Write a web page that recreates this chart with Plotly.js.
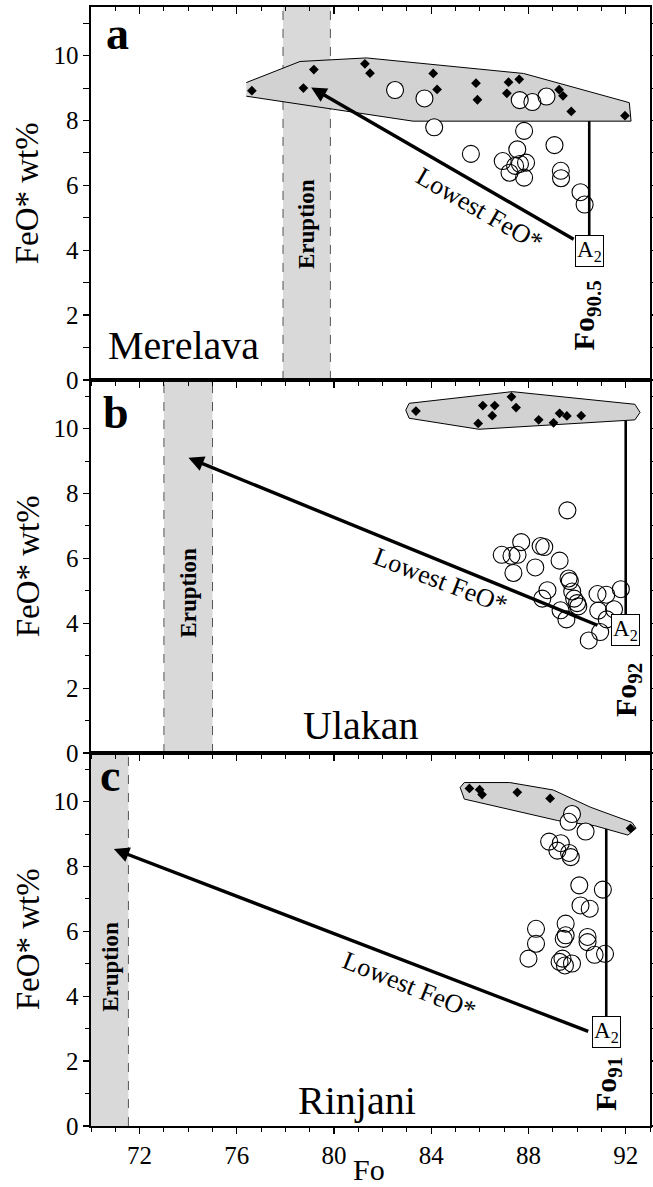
<!DOCTYPE html>
<html>
<head>
<meta charset="utf-8">
<script src="https://cdn.plot.ly/plotly-3.0.1.min.js"></script>
<style>
  html, body { margin: 0; padding: 0; background: #ffffff; }
  #chart { width: 653px; height: 1187px; }
</style>
</head>
<body>
<div id="chart"></div>
<script>
// ---------- Merelava (panel a) ----------
const merelavaEnvelopeFo  = [76.39, 78.60, 81.33, 87.80, 92.15, 92.22, 83.25, 76.39];
const merelavaEnvelopeFeO = [9.17, 9.82, 9.93, 9.45, 8.55, 7.98, 7.98, 8.75];
const merelavaMeltFo  = [76.62, 78.74, 79.17, 81.27, 81.48, 84.08, 84.24, 85.84, 85.90, 87.18, 87.62, 87.11, 89.26, 89.42, 89.76, 91.97];
const merelavaMeltFeO = [8.92, 9.00, 9.57, 9.75, 9.46, 9.45, 8.96, 9.15, 8.64, 9.18, 9.27, 8.84, 8.95, 8.76, 8.28, 8.15];
const merelavaOlivineFo  = [82.51, 83.72, 87.64, 88.16, 88.74, 84.12, 87.82, 85.63, 89.07, 87.54, 86.94, 87.22, 87.65, 87.90, 87.82, 87.45, 89.33, 89.34, 90.14, 90.31];
const merelavaOlivineFeO = [8.94, 8.68, 8.63, 8.57, 8.74, 7.79, 7.68, 6.97, 7.24, 7.11, 6.75, 6.39, 6.66, 6.70, 6.24, 6.60, 6.45, 6.22, 5.79, 5.41];
const merelavaEruptionFo = [77.9, 79.85];
const merelavaArrowFo  = [89.92, 79.06];   // tail, head
const merelavaArrowFeO = [4.31, 9.02];
const merelavaPrimaryFo = 90.5;
const merelavaPrimaryFeO = [7.98, 4.42, 3.97]; // line top, line bottom, A2

// ---------- Ulakan (panel b) ----------
const ulakanEnvelopeFo  = [82.95, 83.09, 87.33, 92.38, 92.59, 92.38, 85.96, 83.09, 82.95];
const ulakanEnvelopeFeO = [10.57, 10.78, 11.14, 10.75, 10.50, 10.27, 9.98, 10.32, 10.57];
const ulakanMeltFo  = [83.37, 86.12, 86.61, 87.30, 87.49, 86.51, 85.93, 88.42, 89.03, 89.28, 89.58, 90.17];
const ulakanMeltFeO = [10.54, 10.71, 10.71, 10.98, 10.65, 10.40, 10.16, 10.27, 10.18, 10.47, 10.39, 10.40];
const ulakanOlivineFo  = [89.60, 87.70, 86.90, 87.30, 87.55, 87.38, 88.28, 88.50, 88.65, 89.28, 89.65, 89.70, 88.78, 88.57, 89.80, 89.88, 90.00, 90.05, 89.32, 89.56, 90.84, 91.20, 91.80, 90.87, 91.52, 90.95, 90.48, 91.22];
const ulakanOlivineFeO = [7.48, 6.50, 6.11, 6.08, 6.11, 5.55, 5.72, 6.38, 6.35, 5.93, 5.38, 5.30, 5.02, 4.76, 4.98, 4.76, 4.62, 4.52, 4.40, 4.12, 4.90, 4.88, 5.05, 4.39, 4.43, 3.73, 3.47, 4.12];
const ulakanEruptionFo = [73.0, 75.0];
const ulakanArrowFo  = [90.9, 74.01];
const ulakanArrowFeO = [3.92, 9.10];
const ulakanPrimaryFo = 92.0;
const ulakanPrimaryFeO = [10.25, 4.25, 3.80];

// ---------- Rinjani (panel c) ----------
const rinjaniEnvelopeFo  = [85.19, 85.36, 87.23, 89.02, 90.55, 92.26, 92.43, 92.09, 90.72, 89.19, 85.36, 85.19];
const rinjaniEnvelopeFeO = [10.44, 10.59, 10.59, 10.36, 9.83, 9.36, 9.18, 8.97, 9.26, 9.42, 10.08, 10.44];
const rinjaniMeltFo  = [85.57, 85.99, 86.09, 87.54, 88.89, 92.20];
const rinjaniMeltFeO = [10.41, 10.37, 10.22, 10.29, 10.10, 9.18];
const rinjaniOlivineFo  = [89.79, 89.65, 90.35, 88.85, 89.19, 89.33, 89.67, 89.74, 90.09, 91.06, 90.14, 90.52, 88.31, 89.53, 88.31, 89.45, 89.53, 90.43, 90.43, 88.00, 89.28, 89.50, 89.40, 89.79, 90.72, 91.15];
const rinjaniOlivineFeO = [9.62, 9.38, 9.08, 8.77, 8.49, 8.72, 8.42, 8.29, 7.42, 7.29, 6.80, 6.70, 6.08, 6.24, 5.62, 5.77, 5.88, 5.83, 5.67, 5.16, 5.06, 4.95, 5.16, 5.01, 5.28, 5.31];
const rinjaniEruptionFo = [69.9, 71.54];
const rinjaniArrowFo  = [90.52, 70.94];
const rinjaniArrowFeO = [2.90, 8.54];
const rinjaniPrimaryFo = 91.2;
const rinjaniPrimaryFeO = [9.16, 3.36, 2.90];

const siteNames = ['Merelava', 'Ulakan', 'Rinjani'];
const panelLetters = ['a', 'b', 'c'];
const primaryLabels = ['90.5', '92', '91'];
const xTickValues = [72, 76, 80, 84, 88, 92];
const yTickValues = [0, 2, 4, 6, 8, 10];

const SERIF = 'Liberation Serif';

const panels = [
  { env: [merelavaEnvelopeFo, merelavaEnvelopeFeO], melt: [merelavaMeltFo, merelavaMeltFeO],
    ol: [merelavaOlivineFo, merelavaOlivineFeO], erupt: merelavaEruptionFo,
    arrow: [merelavaArrowFo, merelavaArrowFeO], pFo: merelavaPrimaryFo, pFeO: merelavaPrimaryFeO,
    siteAt: [73.8, 1.05], eruptAt: 4.8, lowAt: [86.0, 5.25], lowAngle: 30, primAt: [90.38, 2.0],
    letterAt: [0.047, 0.930] },
  { env: [ulakanEnvelopeFo, ulakanEnvelopeFeO], melt: [ulakanMeltFo, ulakanMeltFeO],
    ol: [ulakanOlivineFo, ulakanOlivineFeO], erupt: ulakanEruptionFo,
    arrow: [ulakanArrowFo, ulakanArrowFeO], pFo: ulakanPrimaryFo, pFeO: ulakanPrimaryFeO,
    siteAt: [81.1, 0.85], eruptAt: 4.95, lowAt: [84.36, 5.31], lowAngle: 21, primAt: [92.12, 1.93],
    letterAt: [0.045, 0.912] },
  { env: [rinjaniEnvelopeFo, rinjaniEnvelopeFeO], melt: [rinjaniMeltFo, rinjaniMeltFeO],
    ol: [rinjaniOlivineFo, rinjaniOlivineFeO], erupt: rinjaniEruptionFo,
    arrow: [rinjaniArrowFo, rinjaniArrowFeO], pFo: rinjaniPrimaryFo, pFeO: rinjaniPrimaryFeO,
    siteAt: [80.94, 0.80], eruptAt: 4.9, lowAt: [83.10, 4.34], lowAngle: 22, primAt: [91.25, 1.31],
    letterAt: [0.034, 0.940] }
];

const traces = [];
const shapes = [];
const annotations = [];
const tickFont = { family: SERIF, size: 25, color: '#000000' };
const layout = {
  width: 653, height: 1187,
  margin: { l: 91, r: 3, t: 7, b: 61 },
  paper_bgcolor: '#ffffff', plot_bgcolor: 'rgba(0,0,0,0)',
  showlegend: false,
  font: { family: SERIF, color: '#000000', size: 25 }
};

const domains = [[0.6667, 1], [0.3333, 0.6667], [0, 0.3333]];

panels.forEach((p, i) => {
  const n = i === 0 ? '' : String(i + 1);
  const xa = 'x' + n, ya = 'y' + n;

  // gray envelope of melt compositions
  traces.push({ type: 'scatter', mode: 'lines', x: p.env[0], y: p.env[1], xaxis: xa, yaxis: ya,
    fill: 'toself', fillcolor: '#d2d2d2', line: { color: '#000', width: 1 }, hoverinfo: 'skip' });
  // melt inclusions (filled diamonds)
  traces.push({ type: 'scatter', mode: 'markers', x: p.melt[0], y: p.melt[1], xaxis: xa, yaxis: ya,
    marker: { symbol: 'diamond', size: 7.5, color: '#000', line: { width: 0 } } });
  // olivine hosts: white discs underneath, outlines on top
  traces.push({ type: 'scatter', mode: 'markers', x: p.ol[0], y: p.ol[1], xaxis: xa, yaxis: ya,
    marker: { symbol: 'circle', size: 16, color: '#fff', line: { width: 0 } } });
  traces.push({ type: 'scatter', mode: 'markers', x: p.ol[0], y: p.ol[1], xaxis: xa, yaxis: ya,
    marker: { symbol: 'circle-open', size: 17, color: '#000', line: { width: 1.1, color: '#000' } } });

  // eruption band
  shapes.push({ type: 'rect', xref: xa, yref: ya + ' domain', x0: p.erupt[0], x1: p.erupt[1], y0: 0, y1: 1,
    fillcolor: '#d9d9d9', line: { width: 0 }, layer: 'below' });
  p.erupt.forEach(v => shapes.push({ type: 'line', xref: xa, yref: ya + ' domain', x0: v, x1: v, y0: 0, y1: 1,
    line: { color: '#555', width: 1, dash: 'dash' }, layer: 'below' }));

  // vertical primary-olivine line
  shapes.push({ type: 'line', xref: xa, yref: ya, x0: p.pFo, x1: p.pFo, y0: p.pFeO[0], y1: p.pFeO[1],
    line: { color: '#000', width: 2.6 } });

  // lowest FeO* arrow
  annotations.push({ xref: xa, yref: ya, axref: xa, ayref: ya,
    x: p.arrow[0][1], y: p.arrow[1][1], ax: p.arrow[0][0], ay: p.arrow[1][0],
    text: '', showarrow: true, arrowhead: 2, arrowsize: 0.9, arrowwidth: 3.4, arrowcolor: '#000', standoff: 0 });

  // A2 box
  annotations.push({ xref: xa, yref: ya, x: p.pFo, y: p.pFeO[2], text: 'A<sub>2</sub>', showarrow: false,
    font: { family: SERIF, size: 23, color: '#000' }, bordercolor: '#000', borderwidth: 1, borderpad: 1,
    bgcolor: '#fff' });

  // texts
  annotations.push({ xref: xa, yref: ya, x: p.siteAt[0], y: p.siteAt[1], text: siteNames[i], showarrow: false,
    font: { family: SERIF, size: 40, color: '#000' } });
  annotations.push({ xref: xa, yref: ya, x: (p.erupt[0] + p.erupt[1]) / 2 + (i === 2 ? 0.05 : 0), y: p.eruptAt,
    text: '<b>Eruption</b>', textangle: -90, showarrow: false, font: { family: SERIF, size: 23, color: '#000' } });
  annotations.push({ xref: xa, yref: ya, x: p.lowAt[0], y: p.lowAt[1], text: 'Lowest FeO*', textangle: p.lowAngle,
    showarrow: false, font: { family: SERIF, size: 26, color: '#000' } });
  annotations.push({ xref: xa, yref: ya, x: p.primAt[0], y: p.primAt[1],
    text: '<b>Fo<sub>' + primaryLabels[i] + '</sub></b>', textangle: -90, showarrow: false,
    font: { family: SERIF, size: 30, color: '#000' } });
  annotations.push({ xref: xa + ' domain', yref: ya + ' domain', x: p.letterAt[0], y: p.letterAt[1],
    xanchor: 'center', yanchor: 'middle',
    text: '<b>' + panelLetters[i] + '</b>', showarrow: false, font: { family: SERIF, size: 46, color: '#000' } });
  annotations.push({ xref: 'paper', yref: ya + ' domain', x: -0.113, y: 0.5, xanchor: 'center', yanchor: 'middle',
    text: 'FeO* wt%', textangle: -90, showarrow: false, font: { family: SERIF, size: 33, color: '#000' } });

  layout['xaxis' + n] = {
    domain: [0, 1], anchor: ya, range: [70, 93], showgrid: false, zeroline: false,
    tickmode: 'array', tickvals: xTickValues, showticklabels: i === 2,
    ticks: 'outside', ticklen: 6, tickwidth: 1.3, tickcolor: '#000',
    minor: { dtick: 1, tick0: 70, ticks: 'outside', ticklen: 4, tickwidth: 1, tickcolor: '#000' },
    showline: true, linecolor: '#000', linewidth: 1.6, mirror: true,
    tickfont: tickFont
  };
  if (i > 0) layout['xaxis' + n].matches = 'x';
  layout['yaxis' + n] = {
    domain: domains[i], anchor: xa, range: [0, 11.5], showgrid: false, zeroline: false,
    tickmode: 'array', tickvals: yTickValues,
    ticks: 'outside', ticklen: 6, tickwidth: 1.3, tickcolor: '#000',
    minor: { dtick: 1, tick0: 0, ticks: 'outside', ticklen: 4, tickwidth: 1, tickcolor: '#000' },
    showline: true, linecolor: '#000', linewidth: 1.6, mirror: 'allticks',
    tickfont: tickFont
  };
});

// inward ticks along the top edge of panel a
layout.xaxis4 = {
  overlaying: 'x', anchor: 'y', side: 'top', range: [70, 93],
  showgrid: false, zeroline: false, showticklabels: false, showline: false,
  tickmode: 'array', tickvals: xTickValues, ticks: 'inside', ticklen: 7, tickwidth: 1.3, tickcolor: '#000',
  minor: { dtick: 1, tick0: 70, ticks: 'inside', ticklen: 4, tickwidth: 1, tickcolor: '#000' }
};
traces.push({ type: 'scatter', mode: 'markers', x: [80], y: [-5], xaxis: 'x4', yaxis: 'y', hoverinfo: 'skip',
  marker: { size: 1, color: 'rgba(0,0,0,0)' } });

// x-axis title
annotations.push({ xref: 'paper', yref: 'paper', x: 0.497, y: -0.039, xanchor: 'center', yanchor: 'middle',
  text: 'Fo', showarrow: false, font: { family: SERIF, size: 30, color: '#000' } });

layout.shapes = shapes;
layout.annotations = annotations;

Plotly.newPlot('chart', traces, layout, { displayModeBar: false, staticPlot: true });
</script>
</body>
</html>
